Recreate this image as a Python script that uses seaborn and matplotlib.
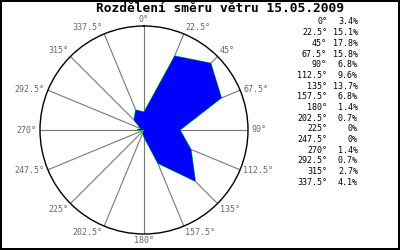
import numpy as np
import matplotlib
matplotlib.use("Agg")
import matplotlib.pyplot as plt
import seaborn as sns
import pandas as pd

directions = ["0°", "22.5°", "45°", "67.5°", "90°", "112.5°", "135°", "157.5°",
              "180°", "202.5°", "225°", "247.5°", "270°", "292.5°", "315°", "337.5°"]
angles_deg = [0, 22.5, 45, 67.5, 90, 112.5, 135, 157.5,
              180, 202.5, 225, 247.5, 270, 292.5, 315, 337.5]
values = [3.4, 15.1, 17.8, 15.8, 6.8, 9.6, 13.7, 6.8,
          1.4, 0.7, 0, 0, 1.4, 0.7, 2.7, 4.1]
value_labels = ["3.4%", "15.1%", "17.8%", "15.8%", "6.8%", "9.6%", "13.7%", "6.8%",
                "1.4%", "0.7%", "0%", "0%", "1.4%", "0.7%", "2.7%", "4.1%"]
title = "Rozdělení směru větru 15.05.2009"

sns.set_style("white")
plt.rcParams['font.family'] = ['DejaVu Sans Mono', 'DejaVu Sans']

fig = plt.figure(figsize=(4, 2.5), dpi=100)
fig.patch.set_facecolor("white")
fig.patch.set_edgecolor("black")
fig.patch.set_linewidth(1.5)

ax = fig.add_axes([0.1, 0.064, 0.52, 0.832], projection="polar")
ax.set_theta_zero_location("N")
ax.set_theta_direction(-1)

theta = np.deg2rad(angles_deg)
df = pd.DataFrame({"theta": np.append(theta, theta[0]),
                   "r": np.append(values, values[0])})
ax.fill(df["theta"], df["r"], color="#0000ff", zorder=3, lw=0)
sns.lineplot(data=df, x="theta", y="r", sort=False, ax=ax, color="#00ee00",
             lw=0.7, zorder=2, estimator=None)

rmax = max(values) * 1.1
ax.set_ylim(0, rmax)
ax.set_yticks([])
ax.set_xticks(theta)
ax.set_xticklabels([])
ax.xaxis.grid(True, color="#777777", lw=0.8)
ax.yaxis.grid(False)
ax.spines["polar"].set_color("black")
ax.spines["polar"].set_linewidth(1)
ax.set_xlabel("")
ax.set_ylabel("")

for t, d in zip(theta, directions):
    s, c = np.sin(t), np.cos(t)
    ha = "left" if s > 0.1 else ("right" if s < -0.1 else "center")
    va = "bottom" if c > 0.5 else ("top" if c < -0.5 else "center")
    ax.annotate(d, xy=(t, rmax), xytext=(2.5 * s, 1.5 * c), textcoords="offset points",
                ha=ha, va=va, fontsize=6, color="#666666", annotation_clip=False)

fig.text(0.55, 0.966, title, ha="center", va="center", fontsize=9.3,
         fontweight="bold", color="black")

for i, (d, v) in enumerate(zip(directions, value_labels)):
    y = 1 - (22 + i * 10.67) / 250
    fig.text(327 / 400, y, d, ha="right", va="center", fontsize=6, color="black")
    fig.text(358 / 400, y, v, ha="right", va="center", fontsize=6, color="black")

fig.savefig("out.png", dpi=100, facecolor=fig.get_facecolor(), edgecolor=fig.get_edgecolor())
